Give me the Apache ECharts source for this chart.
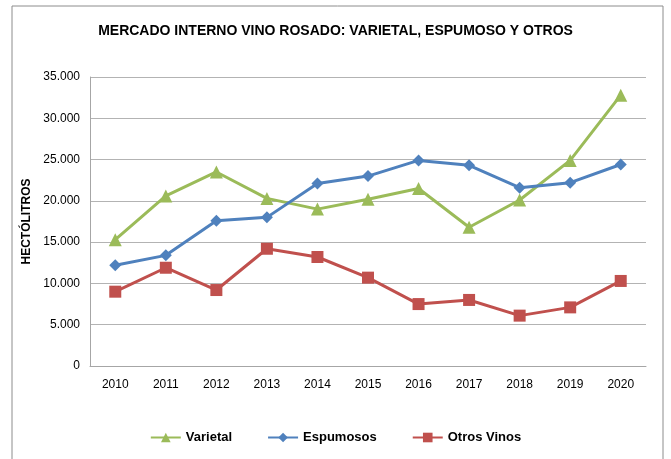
<!DOCTYPE html>
<html>
<head>
<meta charset="utf-8">
<script src="https://cdn.jsdelivr.net/npm/echarts@6/dist/echarts.min.js"></script>
<style>
  html, body { margin: 0; padding: 0; background: #fff; }
  #chart { width: 671px; height: 459px; }
</style>
</head>
<body>
<div id="chart"></div>
<script>
const years = ['2010', '2011', '2012', '2013', '2014', '2015', '2016', '2017', '2018', '2019', '2020']
const varietal = [15300, 20600, 23500, 20300, 19000, 20200, 21500, 16800, 20100, 24900, 32800]
const espumosos = [12200, 13400, 17600, 18000, 22100, 23000, 24900, 24300, 21600, 22200, 24400]
const otrosVinos = [9000, 11900, 9200, 14200, 13200, 10700, 7500, 8000, 6100, 7100, 10300]

const font = '"Liberation Sans", Arial, sans-serif'
const chart = echarts.init(document.getElementById('chart'))

const fmt = v => v === 0 ? '0' : String(v).replace(/\B(?=(\d{3})+(?!\d))/g, '.')

chart.setOption({
  animation: false,
  textStyle: { fontFamily: font },
  title: {
    text: 'MERCADO INTERNO VINO ROSADO: VARIETAL, ESPUMOSO Y OTROS',
    left: 'center', top: 19,
    textStyle: { fontSize: 14, fontWeight: 'bold', color: '#000', fontFamily: font }
  },
  graphic: [{
    type: 'rect',
    shape: { x: 12, y: 6, width: 651, height: 460 },
    style: { fill: 'none', stroke: '#8c8c8c', lineWidth: 1 },
    silent: true
  }],
  grid: { left: 90, right: 25, top: 77, bottom: 93, containLabel: false },
  legend: {
    bottom: 10,
    left: 'center',
    itemWidth: 30,
    itemHeight: 12,
    itemGap: 35,
    textStyle: { fontSize: 13, fontWeight: 'bold', color: '#000', fontFamily: font },
    data: ['Varietal', 'Espumosos', 'Otros Vinos']
  },
  xAxis: {
    type: 'category',
    data: years,
    boundaryGap: true,
    axisLine: { lineStyle: { color: '#a6a6a6' } },
    axisTick: { show: false },
    axisLabel: { color: '#000', fontSize: 12, margin: 13 }
  },
  yAxis: {
    type: 'value',
    min: 0, max: 35000, interval: 5000,
    name: 'HECTÓLITROS',
    nameLocation: 'middle',
    nameGap: 55,
    nameRotate: 90,
    nameTextStyle: { fontSize: 12, fontWeight: 'bold', color: '#000' },
    axisLine: { show: true, lineStyle: { color: '#a6a6a6' } },
    axisTick: { show: false },
    axisLabel: { color: '#000', fontSize: 12, margin: 10, formatter: fmt },
    splitLine: { lineStyle: { color: '#b3b3b3' } }
  },
  series: [
    {
      name: 'Varietal', type: 'line', data: varietal,
      symbol: 'triangle', symbolSize: 13,
      lineStyle: { color: '#9BBB59', width: 3 },
      itemStyle: { color: '#9BBB59' }
    },
    {
      name: 'Espumosos', type: 'line', data: espumosos,
      symbol: 'diamond', symbolSize: 12,
      lineStyle: { color: '#4F81BD', width: 3 },
      itemStyle: { color: '#4F81BD' }
    },
    {
      name: 'Otros Vinos', type: 'line', data: otrosVinos,
      symbol: 'rect', symbolSize: 12,
      lineStyle: { color: '#C0504D', width: 3 },
      itemStyle: { color: '#C0504D' }
    }
  ]
})
</script>
</body>
</html>
